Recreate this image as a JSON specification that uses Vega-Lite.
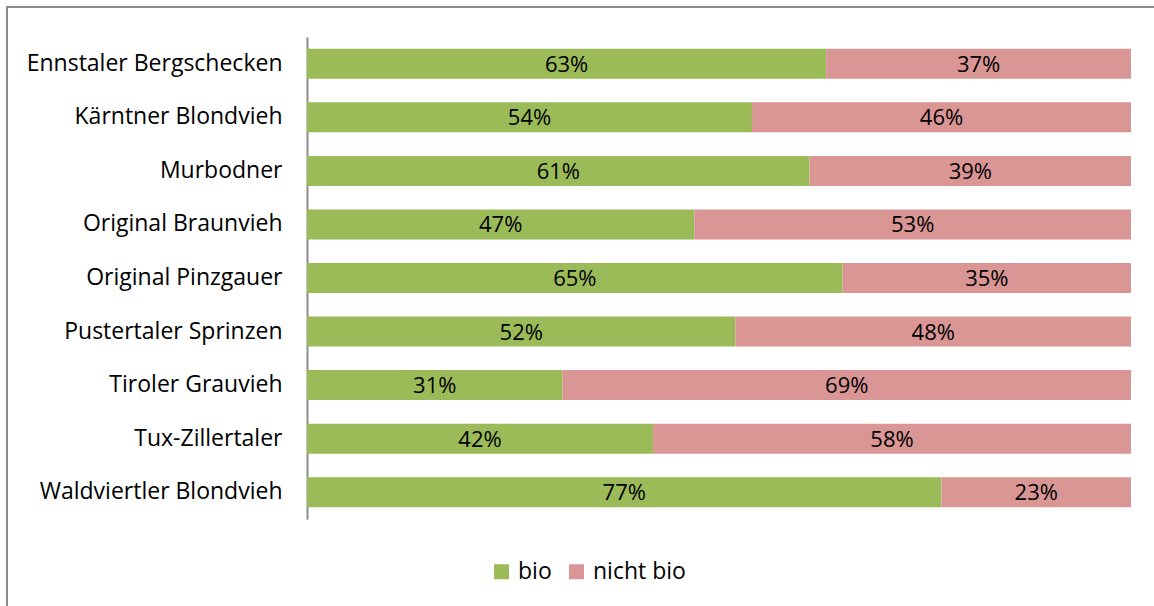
{
  "$schema": "https://vega.github.io/schema/vega-lite/v6.json",
  "width": 1150,
  "height": 600,
  "autosize": {"type": "none"},
  "padding": {"left": 7, "top": 7, "right": 0, "bottom": 0},
  "background": "white",
  "config": {
    "view": {"stroke": "#8c8c8c", "strokeWidth": 2},
    "font": "Open Sans"
  },
  "data": {
    "values": [
      {"Rasse": "Ennstaler Bergschecken", "bio": 0.63, "nicht bio": 0.37},
      {"Rasse": "Kärntner Blondvieh", "bio": 0.54, "nicht bio": 0.46},
      {"Rasse": "Murbodner", "bio": 0.61, "nicht bio": 0.39},
      {"Rasse": "Original Braunvieh", "bio": 0.47, "nicht bio": 0.53},
      {"Rasse": "Original Pinzgauer", "bio": 0.65, "nicht bio": 0.35},
      {"Rasse": "Pustertaler Sprinzen", "bio": 0.52, "nicht bio": 0.48},
      {"Rasse": "Tiroler Grauvieh", "bio": 0.31, "nicht bio": 0.69},
      {"Rasse": "Tux-Zillertaler", "bio": 0.42, "nicht bio": 0.58},
      {"Rasse": "Waldviertler Blondvieh", "bio": 0.77, "nicht bio": 0.23}
    ]
  },
  "encoding": {
    "y": {
      "field": "Rasse",
      "type": "nominal",
      "sort": null,
      "scale": {"range": [30, 512], "paddingInner": 0.44, "paddingOuter": 0.22},
      "axis": {
        "orient": "left",
        "offset": -300,
        "title": null,
        "ticks": false,
        "grid": false,
        "domainColor": "#8c8c8c",
        "domainWidth": 2,
        "labelFontSize": 23,
        "labelColor": "black",
        "labelPadding": 25,
        "labelLimit": 0,
        "labelFont": "Open Sans"
      }
    }
  },
  "layer": [
    {
      "transform": [{"fold": ["bio", "nicht bio"], "as": ["Kategorie", "Anteil"]}],
      "mark": {"type": "bar"},
      "encoding": {
        "x": {
          "field": "Anteil",
          "type": "quantitative",
          "stack": "zero",
          "scale": {"domain": [0, 1], "range": [300, 1124]},
          "axis": null
        },
        "color": {
          "field": "Kategorie",
          "type": "nominal",
          "scale": {"domain": ["bio", "nicht bio"], "range": ["#9BBB59", "#D99694"]},
          "legend": {
            "title": null,
            "orient": "none",
            "legendX": 483,
            "legendY": 553,
            "direction": "horizontal",
            "symbolType": "square",
            "symbolSize": 225,
            "symbolStrokeWidth": 0,
            "symbolOpacity": 1,
            "labelFontSize": 23,
            "labelColor": "black",
            "labelFont": "Open Sans",
            "labelOffset": 5,
            "columnPadding": 13
          }
        }
      }
    },
    {
      "mark": {"type": "text", "fontSize": 22, "color": "black", "align": "center", "baseline": "middle", "dy": 1},
      "encoding": {
        "x": {
          "field": "bio",
          "type": "quantitative",
          "scale": {"domain": [0, 2], "range": [300, 1124]},
          "axis": null
        },
        "text": {"field": "bio", "type": "quantitative", "format": ".0%"}
      }
    },
    {
      "mark": {"type": "text", "fontSize": 22, "color": "black", "align": "center", "baseline": "middle", "dy": 1},
      "encoding": {
        "x": {
          "field": "bio",
          "type": "quantitative",
          "scale": {"domain": [-1, 1], "range": [300, 1124]},
          "axis": null
        },
        "text": {"field": "nicht bio", "type": "quantitative", "format": ".0%"}
      }
    }
  ],
  "resolve": {"scale": {"x": "independent"}}
}
